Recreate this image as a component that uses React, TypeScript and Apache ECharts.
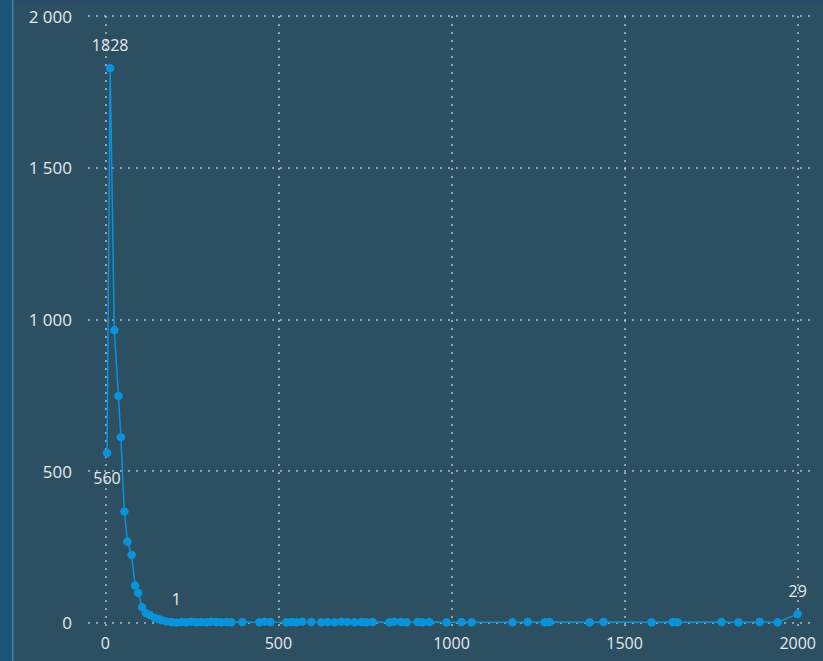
import React, { useEffect, useRef } from "react";
import * as echarts from "echarts";

const xValues: number[] = [
  5, 14, 26, 38, 45, 55, 64, 76, 86, 95, 106, 117, 128, 142, 155, 163, 176, 191, 205,
  220, 234, 249, 263, 277, 292, 306, 321, 335, 350, 364, 396, 445, 460, 477, 523, 538,
  552, 569, 595, 624, 642, 662, 682, 699, 720, 740, 754, 772, 821, 835, 855, 870, 902,
  916, 936, 986, 1029, 1058, 1176, 1220, 1269, 1283, 1399, 1439, 1578, 1639, 1653, 1780,
  1829, 1890, 1942, 2000,
];
const yValues: number[] = [
  560, 1828, 965, 748, 612, 367, 268, 224, 123, 99, 52, 32, 26, 17, 12, 9, 5, 3, 1,
  3, 2, 4, 2, 3, 2, 4, 3, 2, 3, 2, 3, 2, 4, 3, 2, 3,
  2, 4, 3, 2, 3, 2, 4, 3, 2, 3, 2, 3, 2, 4, 3, 2, 3,
  2, 3, 2, 3, 2, 2, 3, 2, 3, 2, 3, 2, 3, 2, 3,
  2, 3, 2, 29,
];
const tickValues: number[] = [0, 500, 1000, 1500, 2000];
const labelBelow: number[] = [0];
const labelAbove: number[] = [1, 18, 71];

const TEXT = "#e6eaec";
const FONT = "'Open Sans', 'Noto Sans', sans-serif";

export default function App() {
  const ref = useRef<HTMLDivElement>(null);
  useEffect(() => {
    if (!ref.current) return;
    const chart = echarts.init(ref.current, undefined, { renderer: "svg" });
    const data = xValues.map((x, i) => {
      const item: any = { value: [x, yValues[i]] };
      if (labelBelow.includes(i)) {
        item.label = { show: true, position: "bottom", distance: 13 };
      } else if (labelAbove.includes(i)) {
        item.label = { show: true, position: "top", distance: 11 };
      }
      return item;
    });
    const splitLine = {
      show: true,
      lineStyle: { color: "rgba(205,212,218,0.8)", width: 1.6, type: [2, 6] as any },
    };
    chart.setOption({
      animation: false,
      backgroundColor: "#2c4f62",
      textStyle: { fontFamily: FONT },
      graphic: [
        { type: "rect", shape: { x: 0, y: 0, width: 823, height: 3 }, style: { fill: "#2b4968" }, z: -10 },
        { type: "rect", shape: { x: 0, y: 0, width: 12, height: 661 }, style: { fill: "#1b567a" }, z: -10 },
        { type: "rect", shape: { x: 12, y: 0, width: 1.5, height: 661 }, style: { fill: "#4d809f" }, z: -10 },
      ],
      grid: { left: 88, right: 8, top: 16, bottom: 29, containLabel: false },
      xAxis: {
        type: "value",
        min: -50,
        max: 2050,
        axisLine: { show: false },
        axisTick: { show: false, customValues: tickValues },
        axisLabel: {
          customValues: tickValues,
          color: TEXT,
          fontSize: 16,
          fontFamily: FONT,
          margin: 3,
          formatter: (v: number) => String(v),
        },
        splitLine,
      },
      yAxis: {
        type: "value",
        min: -30,
        max: 2000,
        axisLine: { show: false },
        axisTick: { show: false, customValues: tickValues },
        axisLabel: {
          customValues: tickValues,
          color: TEXT,
          fontSize: 17,
          fontFamily: FONT,
          margin: 16,
          formatter: (v: number) => String(v).replace(/\B(?=(\d{3})+(?!\d))/g, " "),
        },
        splitLine,
      },
      series: [
        {
          type: "line",
          data,
          symbol: "circle",
          symbolSize: 8.5,
          showAllSymbol: true,
          itemStyle: { color: "#0a93da" },
          lineStyle: { color: "#0a93da", width: 1.5 },
          label: { show: false, color: TEXT, fontSize: 16, fontFamily: FONT },
        },
      ],
    });
    return () => chart.dispose();
  }, []);
  return (
    <div
      ref={ref}
      style={{ position: "absolute", left: 0, top: 0, width: 823, height: 661 }}
    />
  );
}
